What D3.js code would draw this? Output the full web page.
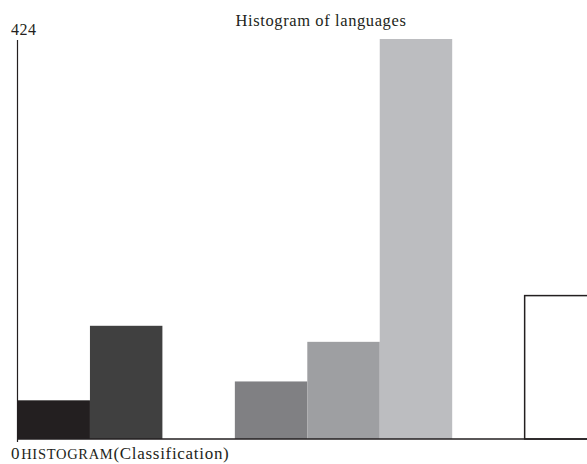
<!DOCTYPE html>
<html>
<head>
<meta charset="utf-8">
<style>
  html, body { margin: 0; padding: 0; background: #fff; }
  svg { display: block; }
  text { font-family: 'Liberation Serif', 'DejaVu Serif', serif; fill: #231f20; }
</style>
</head>
<body>
<script src="https://d3js.org/d3.v7.min.js"></script>
<script>
// chart values
var bins = ["1", "2", "3", "4", "5", "6", "7", "8"];
var counts = [41, 120, 0, 61, 103, 424, 0, 152];
var yTicks = [0, 424];
var barColors = ["#231f20", "#404040", "#ffffff", "#808083", "#9e9fa2", "#bcbdc0", "#ffffff", "#ffffff"];

var width = 587, height = 464;
var svg = d3.select("body").append("svg")
  .attr("width", width)
  .attr("height", height);

var x0 = 17.5, step = 72.45;
var x = d3.scaleBand().domain(bins).range([x0, x0 + step * bins.length]).paddingInner(0).paddingOuter(0);
var y = d3.scaleLinear().domain([0, 424]).range([439, 39]);

// bars
svg.selectAll("rect.bar")
  .data(counts)
  .enter()
  .append("rect")
    .attr("class", "bar")
    .attr("x", function(d, i) { return x(bins[i]); })
    .attr("y", function(d) { return y(d); })
    .attr("width", x.bandwidth())
    .attr("height", function(d) { return y(0) - y(d); })
    .attr("fill", function(d, i) { return barColors[i]; })
    .attr("stroke", function(d, i) { return i == 7 ? "#231f20" : "none"; })
    .attr("stroke-width", 1.5);

// axes lines
svg.append("line")
  .attr("x1", x0).attr("x2", width)
  .attr("y1", y(0)).attr("y2", y(0))
  .attr("stroke", "#231f20").attr("stroke-width", 1.5);
svg.append("line")
  .attr("x1", x0).attr("x2", x0)
  .attr("y1", y(0) + 3).attr("y2", y(424) + 1)
  .attr("stroke", "#231f20").attr("stroke-width", 1.2);

// y tick labels
svg.append("text")
  .attr("x", 11).attr("y", 35)
  .attr("font-size", 16)
  .attr("letter-spacing", 0.5)
  .text(yTicks[1]);

var xl = svg.append("text")
  .attr("x", 11).attr("y", 459)
  .attr("font-size", 17)
  .attr("letter-spacing", 0.7);
xl.append("tspan").text(yTicks[0]);
xl.append("tspan").attr("dx", 1).attr("font-size", 14.5).text("HISTOGRAM");
xl.append("tspan").text("(Classification)");

// title
svg.append("text")
  .attr("x", 321).attr("y", 26)
  .attr("text-anchor", "middle")
  .attr("font-size", 16.5)
  .attr("letter-spacing", 0.6)
  .text("Histogram of languages");
</script>
</body>
</html>
